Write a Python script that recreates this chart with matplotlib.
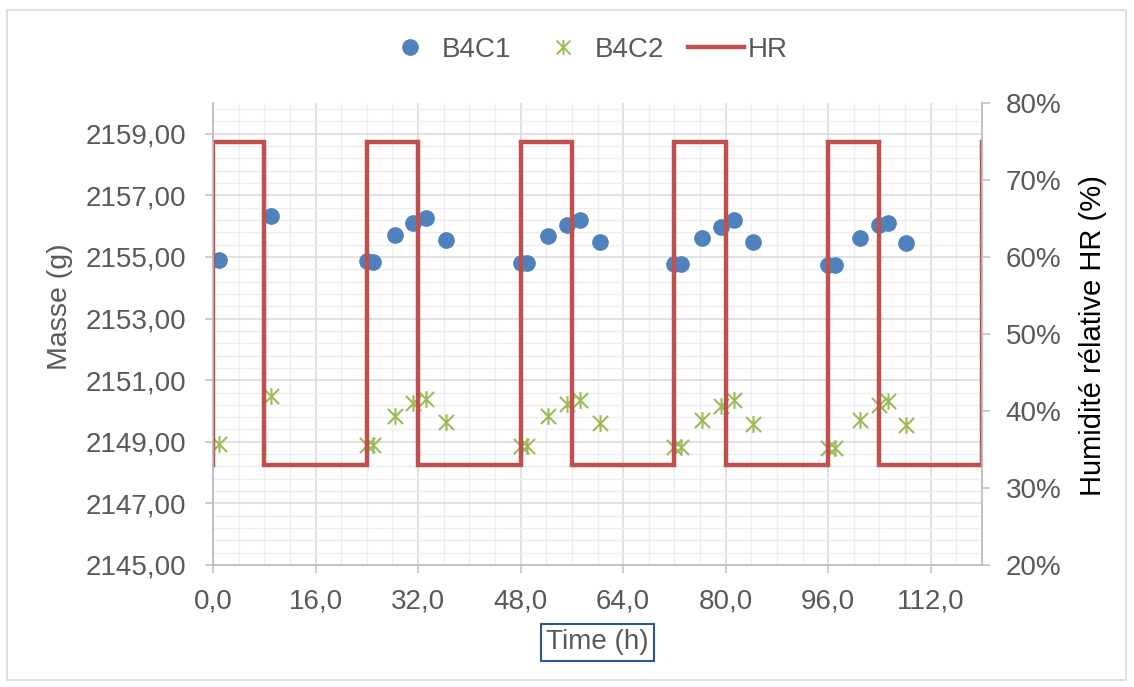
import matplotlib
matplotlib.use("Agg")
import matplotlib.pyplot as plt
from matplotlib.path import Path
from matplotlib.patches import Rectangle
from matplotlib.lines import Line2D
from matplotlib.ticker import FuncFormatter, MultipleLocator

# ---------------------------------------------------------------------------
# data
# ---------------------------------------------------------------------------
time_h = [1, 9, 24, 25, 28.4, 31.2, 33.3, 36.3,
          48, 49, 52.3, 55.2, 57.3, 60.4,
          72, 73, 76.3, 79.3, 81.3, 84.3,
          96, 97, 100.9, 103.9, 105.3, 108.2]

mass_b4c1 = [2154.91, 2156.32, 2154.86, 2154.83, 2155.72, 2156.12, 2156.27, 2155.56,
             2154.81, 2154.81, 2155.69, 2156.05, 2156.21, 2155.50,
             2154.78, 2154.78, 2155.61, 2155.99, 2156.20, 2155.48,
             2154.75, 2154.75, 2155.62, 2156.05, 2156.12, 2155.45]

mass_b4c2 = [2148.94, 2150.48, 2148.91, 2148.89, 2149.83, 2150.26, 2150.38, 2149.64,
             2148.86, 2148.86, 2149.83, 2150.22, 2150.37, 2149.61,
             2148.83, 2148.83, 2149.72, 2150.15, 2150.35, 2149.59,
             2148.81, 2148.81, 2149.72, 2150.18, 2150.31, 2149.54]

hr_time = [0, 0, 8, 8, 24, 24, 32, 32, 48, 48, 56, 56,
           72, 72, 80, 80, 96, 96, 104, 104, 120, 120]
hr_pct = [33, 75, 75, 33, 33, 75, 75, 33, 33, 75, 75, 33,
          33, 75, 75, 33, 33, 75, 75, 33, 33, 75]

BLUE = "#4F81BD"
GREEN = "#9BBB59"
RED = "#C0504D"
TXT = "#595959"
AXC = "#BFBFBF"

plt.rcParams["font.family"] = ["Liberation Sans", "DejaVu Sans"]
plt.rcParams["font.size"] = 20

# Excel-style "star" marker: an X with a vertical bar through it
star = Path([(-1, -1), (1, 1), (-1, 1), (1, -1), (0, -1.1), (0, 1.1)],
            [Path.MOVETO, Path.LINETO, Path.MOVETO, Path.LINETO, Path.MOVETO, Path.LINETO])

fig = plt.figure(figsize=(11.34, 6.87), dpi=100)
ax = fig.add_axes([213 / 1134, 1 - 565 / 687, (982 - 213) / 1134, (565 - 103) / 687])
ax2 = ax.twinx()

# outer chart border
fig.patches.append(Rectangle((7 / 1134, 1 - 680 / 687), (1126 - 7) / 1134, (680 - 10) / 687,
                             transform=fig.transFigure, fill=False, ec="#D9D9D9", lw=1.2))

ax.plot(time_h, mass_b4c1, ls="none", marker="o", ms=11, color=BLUE, mec=BLUE)
ax.plot(time_h, mass_b4c2, ls="none", marker=star, ms=12, mew=1.5, color=GREEN, mfc="none")
ax2.plot(hr_time, hr_pct, color=RED, lw=3.2, solid_joinstyle="miter")

ax.set_xlim(0, 120)
ax.set_ylim(2145, 2160)
ax2.set_ylim(20, 80)

ax.xaxis.set_major_locator(MultipleLocator(16))
ax.xaxis.set_minor_locator(MultipleLocator(4))
ax.yaxis.set_major_locator(MultipleLocator(2, offset=1))
ax.yaxis.set_minor_locator(MultipleLocator(0.4, offset=0.2))
ax2.yaxis.set_major_locator(MultipleLocator(10))

ax.xaxis.set_major_formatter(FuncFormatter(lambda v, p: f"{v:.1f}".replace(".", ",")))
ax.yaxis.set_major_formatter(FuncFormatter(lambda v, p: f"{v:.2f}".replace(".", ",")))
ax2.yaxis.set_major_formatter(FuncFormatter(lambda v, p: f"{v:.0f}%"))

ax.grid(which="major", color="#D9D9D9", lw=1.1)
ax.grid(which="minor", color="#EEEEEE", lw=1.0)
ax.set_axisbelow(True)

for a in (ax, ax2):
    a.spines["top"].set_visible(False)
    for s in ("left", "right", "bottom"):
        a.spines[s].set_color(AXC)
        a.spines[s].set_linewidth(1.1)

ax.tick_params(axis="both", which="major", length=6, width=1.1, color=AXC,
               labelcolor=TXT, labelsize=20)
ax.tick_params(axis="y", pad=13)
ax.tick_params(axis="x", pad=11)
ax.tick_params(which="minor", length=0)
ax2.tick_params(axis="y", length=6, width=1.1, color=AXC, labelcolor=TXT,
                labelsize=20, pad=11)

ax.set_ylabel("Masse (g)", color=TXT, fontsize=20.5, va="center")
ax.yaxis.set_label_coords(-0.199, 0.56)
ax2.set_ylabel("Humidité rélative HR (%)", color="black", fontsize=21, va="center")
ax2.yaxis.set_label_coords(1.144, 0.496)

ax.set_xlabel("Time (h)", color=TXT, fontsize=20, va="center",
              bbox=dict(boxstyle="square,pad=0.2", fc="white", ec="#2F5597", lw=1.5))
ax.xaxis.set_label_coords(0.5, -0.167)

handles = [
    Line2D([], [], ls="none", marker="o", ms=11, color=BLUE),
    Line2D([], [], ls="none", marker=star, ms=11, mew=1.4, color=GREEN, mfc="none"),
    Line2D([], [], color=RED, lw=3.2),
]
leg = fig.legend(handles, ["B4C1", "B4C2", "HR"], loc="center", bbox_to_anchor=(0.516, 0.927),
                 ncol=3, frameon=False, fontsize=20, handlelength=2.0, handletextpad=0.15,
                 columnspacing=0.85, numpoints=1)
for t in leg.get_texts():
    t.set_color(TXT)

fig.savefig("out.png", dpi=100)
